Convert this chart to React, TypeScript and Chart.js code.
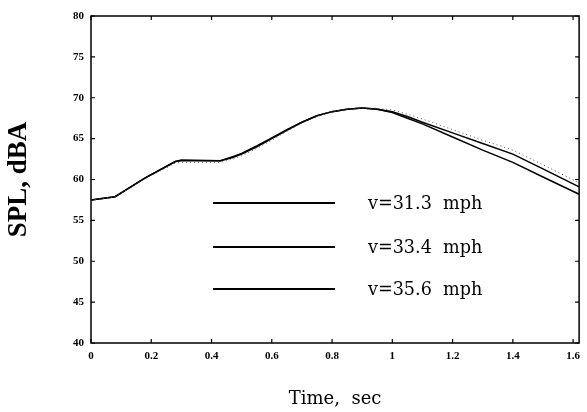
import React, { useEffect, useRef } from 'react';
import { Chart, registerables } from 'chart.js';

Chart.register(...registerables);

// ---- data ----
const TIME = [0, 0.08, 0.18, 0.28, 0.3, 0.43, 0.47, 0.5, 0.55, 0.6, 0.65, 0.7, 0.75, 0.8, 0.85, 0.9, 0.95, 1.0, 1.05, 1.1, 1.2, 1.3, 1.4, 1.5, 1.62];
const SPL_31_3 = [57.5, 57.9, 60.1, 62.0, 62.1, 62.1, 62.5, 62.9, 63.8, 64.8, 65.9, 66.9, 67.7, 68.3, 68.6, 68.75, 68.7, 68.5, 68.0, 67.4, 66.1, 64.8, 63.6, 61.8, 59.6];
const SPL_33_4 = [57.5, 57.9, 60.2, 62.2, 62.4, 62.3, 62.8, 63.2, 64.1, 65.1, 66.1, 67.0, 67.8, 68.3, 68.6, 68.75, 68.6, 68.3, 67.7, 67.0, 65.7, 64.4, 63.1, 61.3, 59.1];
const SPL_35_6 = [57.5, 57.9, 60.2, 62.2, 62.3, 62.3, 62.7, 63.1, 64.0, 65.0, 66.0, 67.0, 67.8, 68.3, 68.6, 68.75, 68.6, 68.2, 67.5, 66.8, 65.2, 63.6, 62.1, 60.3, 58.2];
const SERIES_LABELS = ['v=31.3  mph', 'v=33.4  mph', 'v=35.6  mph'];
const X_MIN = 0;
const X_MAX = 1.62;
const X_STEP = 0.2;
const Y_MIN = 40;
const Y_MAX = 80;
const Y_STEP = 5;
const X_TITLE = 'Time,  sec';
const Y_TITLE = 'SPL, dBA';

const toPoints = (ys: number[]) => TIME.map((t, i) => ({ x: t, y: ys[i] }));

const framePlugin = {
  id: 'frameTicks',
  afterDraw(chart: any) {
    const { ctx, chartArea } = chart;
    const { left, right, top, bottom } = chartArea;
    ctx.save();
    ctx.strokeStyle = '#000';
    ctx.lineWidth = 1.5;
    ctx.strokeRect(left, top, right - left, bottom - top);
    ctx.lineWidth = 1.2;
    const tl = 4;
    chart.scales.x.ticks.forEach((t: any) => {
      const px = chart.scales.x.getPixelForValue(t.value);
      ctx.beginPath();
      ctx.moveTo(px, bottom);
      ctx.lineTo(px, bottom - tl);
      ctx.moveTo(px, top);
      ctx.lineTo(px, top + tl);
      ctx.stroke();
    });
    chart.scales.y.ticks.forEach((t: any) => {
      const py = chart.scales.y.getPixelForValue(t.value);
      ctx.beginPath();
      ctx.moveTo(left, py);
      ctx.lineTo(left + tl, py);
      ctx.moveTo(right, py);
      ctx.lineTo(right - tl, py);
      ctx.stroke();
    });
    ctx.restore();
  },
};

const legendPlugin = {
  id: 'innerLegend',
  afterDraw(chart: any) {
    const { ctx, chartArea } = chart;
    const { left, top } = chartArea;
    const rows = [187, 231, 273];
    ctx.save();
    chart.data.datasets.forEach((ds: any, i: number) => {
      const y = top + rows[i];
      ctx.strokeStyle = '#000';
      ctx.lineWidth = 1.8;
      ctx.beginPath();
      ctx.moveTo(left + 122, y);
      ctx.lineTo(left + 244, y);
      ctx.stroke();
      ctx.fillStyle = '#000';
      ctx.font = '17.6px "DejaVu Serif"';
      ctx.textBaseline = 'alphabetic';
      ctx.textAlign = 'left';
      ctx.fillText(ds.label, left + 277, y + 6);
    });
    ctx.restore();
  },
};

export default function App() {
  const ref = useRef<HTMLCanvasElement | null>(null);
  useEffect(() => {
    if (!ref.current) return;
    const chart = new Chart(ref.current, {
      type: 'line',
      data: {
        datasets: [
          {
            label: SERIES_LABELS[0],
            data: toPoints(SPL_31_3),
            borderColor: '#555',
            borderWidth: 1,
            borderDash: [1, 3],
            pointRadius: 0,
            tension: 0,
            fill: false,
          },
          {
            label: SERIES_LABELS[1],
            data: toPoints(SPL_33_4),
            borderColor: '#000',
            borderWidth: 1.5,
            pointRadius: 0,
            tension: 0,
            fill: false,
          },
          {
            label: SERIES_LABELS[2],
            data: toPoints(SPL_35_6),
            borderColor: '#000',
            borderWidth: 1.5,
            pointRadius: 0,
            tension: 0,
            fill: false,
          },
        ],
      },
      options: {
        animation: false,
        responsive: false,
        maintainAspectRatio: false,
        layout: { padding: { left: 0, right: 3, top: 16, bottom: 0 } },
        plugins: {
          legend: { display: false },
          tooltip: { enabled: false },
        },
        scales: {
          x: {
            type: 'linear',
            min: X_MIN,
            max: X_MAX,
            grid: { display: false, drawTicks: false },
            border: { display: false },
            ticks: {
              stepSize: X_STEP,
              includeBounds: false,
              padding: 7,
              color: '#000',
              font: { family: '"Liberation Serif"', size: 11, weight: 'bold' },
              maxRotation: 0,
              callback: (v: any) => String(Math.round(Number(v) * 10) / 10),
            },
            title: {
              display: true,
              text: X_TITLE,
              color: '#000',
              font: { family: '"DejaVu Serif"', size: 18 },
              padding: { top: 0, bottom: 2 },
            },
            afterFit: (s: any) => {
              s.height = 69;
            },
          },
          y: {
            type: 'linear',
            min: Y_MIN,
            max: Y_MAX,
            grid: { display: false, drawTicks: false },
            border: { display: false },
            ticks: {
              stepSize: Y_STEP,
              padding: 7,
              color: '#000',
              font: { family: '"Liberation Serif"', size: 11, weight: 'bold' },
            },
            title: {
              display: true,
              text: Y_TITLE,
              color: '#000',
              font: { family: '"Liberation Serif"', size: 27, weight: 'bold' },
              padding: { top: 3, bottom: 3 },
            },
            afterFit: (s: any) => {
              s.width = 91;
            },
          },
        },
      },
      plugins: [framePlugin, legendPlugin],
    });
    return () => chart.destroy();
  }, []);
  return (
    <div style={{ position: 'fixed', left: 0, top: 0, width: 587, height: 412, background: '#fff' }}>
      <canvas ref={ref} width={587} height={412} style={{ width: 587, height: 412, display: 'block' }} />
    </div>
  );
}
